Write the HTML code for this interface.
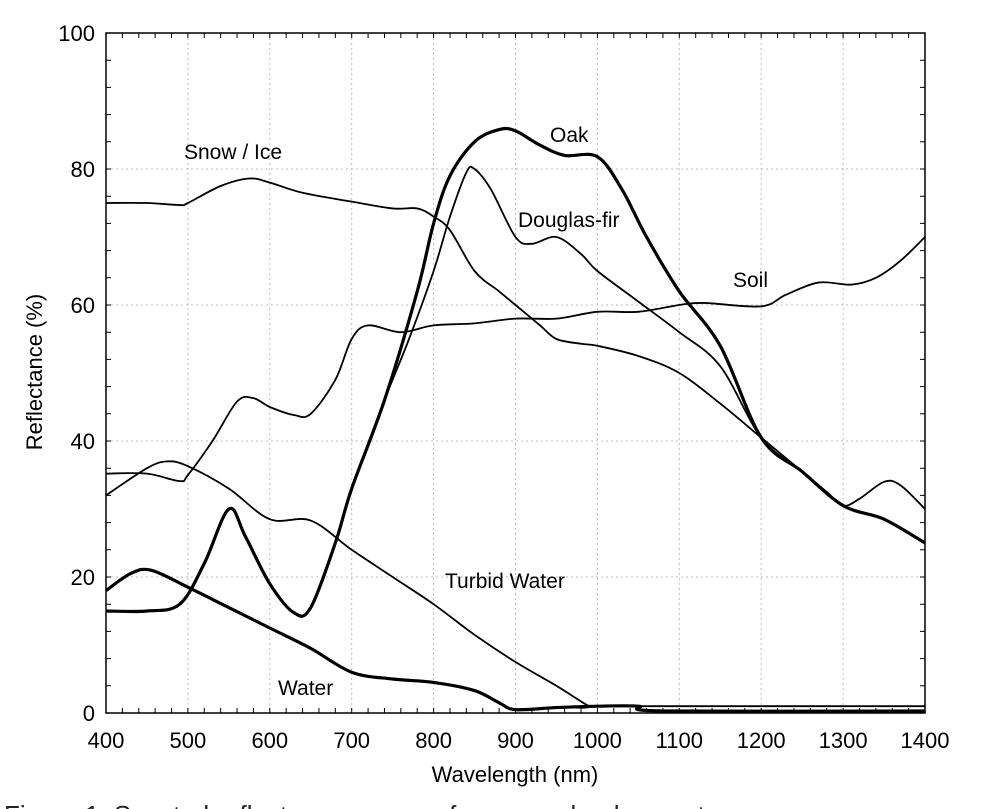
<!DOCTYPE html>
<html><head><meta charset="utf-8"><style>
html,body{margin:0;padding:0;background:#fff;width:995px;height:809px;overflow:hidden}
svg{display:block;font-family:"Liberation Sans",Arial,sans-serif}
</style></head><body>
<svg id="chart" width="995" height="809" viewBox="0 0 995 809" xmlns="http://www.w3.org/2000/svg">
<g id="grid"></g>
<g id="axes"></g>
<g id="series"></g>
<g id="labels" font-size="21" fill="#000">
<text x="184" y="159">Snow / Ice</text>
<text x="550" y="142">Oak</text>
<text x="518" y="227">Douglas-fir</text>
<text x="733" y="287">Soil</text>
<text x="445" y="588">Turbid Water</text>
<text x="278" y="695">Water</text>
</g>
<text x="515" y="782" font-size="22" text-anchor="middle">Wavelength (nm)</text>
<text transform="translate(42,372) rotate(-90)" font-size="22" text-anchor="middle">Reflectance (%)</text>
<text x="4" y="824" font-size="26" fill="#222">Figure 1. Spectral reflectance curves of common land cover types</text>
</svg>
<script>
const xTicks=[400,500,600,700,800,900,1000,1100,1200,1300,1400];
const yTicks=[0,20,40,60,80,100];
const snowX=[400,450,490,500,540,575,600,640,700,750,780,800,820,850,880,900,930,950,980,1000,1050,1100,1150,1200,1250,1280,1300,1320,1350,1370,1400];
const snowY=[75,75,74.7,75,77.5,78.6,78,76.5,75.2,74.2,74.2,73,71,65,62,60,57,55,54.3,54,52.5,50,45.5,40.5,35.5,32.5,30.5,31.5,34,33.5,30];
const soilX=[400,450,490,500,530,560,580,600,630,650,680,700,720,760,800,850,900,950,1000,1050,1100,1130,1200,1230,1270,1310,1340,1370,1400];
const soilY=[35.2,35.2,34.1,35,40,45.8,46.3,45,43.8,44,49,55,57,56,57,57.3,58,58,59,59,60,60.3,59.8,61.5,63.3,63,64,66.5,70];
const oakX=[400,450,490,520,550,570,600,630,650,680,700,740,780,800,820,850,880,900,930,960,1000,1030,1060,1100,1150,1200,1250,1300,1350,1400];
const oakY=[15,15,16,22,30,26,19,14.7,15.5,25,33,46,62,72,79,84,85.8,85.6,83.5,82,81.8,77,70,62,54,40.5,35.5,30.5,28.5,25];
const firX=[400,450,490,520,550,570,600,630,650,680,700,740,770,800,820,840,850,870,900,920,950,980,1000,1050,1100,1150,1200,1250,1300,1350,1400];
const firY=[15,15,16,22,30,26,19,14.7,15.5,25,33,46,55,65,73,79.5,80,77,70,69,70,67.5,65,60.5,56,51,40.5,35.5,30.5,28.5,25];
const turbX=[400,450,475,500,550,600,650,700,750,800,850,900,950,990,1000,1400];
const turbY=[32,36,37,36.3,33,28.5,28.3,24,20,16,11.5,7.5,4,1,1,1];
const waterX=[400,430,455,500,550,600,650,700,750,800,850,880,900,950,1000,1050,1080,1400];
const waterY=[18,20.5,21,18.5,15.5,12.5,9.5,6,5,4.5,3.3,1.5,0.5,0.8,1,1,0.3,0.3];

const L=106,R=925,T=33,B=713;
const sx=v=>L+(v-400)/1000*(R-L);
const sy=v=>B-v/100*(B-T);
const NS='http://www.w3.org/2000/svg';
function mk(tag,attrs,parent){const e=document.createElementNS(NS,tag);for(const k in attrs)e.setAttribute(k,attrs[k]);parent.appendChild(e);return e;}
const grid=document.getElementById('grid'),axes=document.getElementById('axes'),series=document.getElementById('series');
xTicks.forEach(t=>{
  const g=mk('line',{x1:sx(t),x2:sx(t),y1:T,y2:B,stroke:'#bbb','stroke-dasharray':'2,3','stroke-width':1},grid);
  
  
  const tx=mk('text',{x:sx(t),y:B+35,'font-size':22,'text-anchor':'middle'},axes);
  tx.textContent=t;
  
  
});
yTicks.forEach(t=>{
  const g=mk('line',{x1:L,x2:R,y1:sy(t),y2:sy(t),stroke:'#bbb','stroke-dasharray':'2,3','stroke-width':1},grid);
  
  
  const tx=mk('text',{x:L-11,y:sy(t)+8,'font-size':22,'text-anchor':'end'},axes);
  tx.textContent=t;
  
  
});
let d='';
for(let v=400;v<=1400;v+=20){const x=sx(v);d+=`M${x},${B}v-5M${x},${T}v5`;}
for(let v=0;v<=100;v+=4){const y=sy(v);d+=`M${L},${y}h5M${R},${y}h-5`;}
const tk=mk('path',{d:d,stroke:'#000','stroke-width':1,fill:'none'},axes);


const fr=mk('rect',{x:L,y:T,width:R-L,height:B-T,fill:'none',stroke:'#000','stroke-width':1.5},axes);


function line(xs,ys,w,name){
  const p=xs.map((x,i)=>[sx(x),sy(ys[i])]);
  let s=`M${p[0][0]},${p[0][1]}`;
  for(let i=0;i<p.length-1;i++){
    const p0=p[i-1]||p[i],p1=p[i],p2=p[i+1],p3=p[i+2]||p2;
    const c1x=p1[0]+(p2[0]-p0[0])/6,c1y=p1[1]+(p2[1]-p0[1])/6;
    const c2x=p2[0]-(p3[0]-p1[0])/6,c2y=p2[1]-(p3[1]-p1[1])/6;
    s+=`C${c1x},${c1y} ${c2x},${c2y} ${p2[0]},${p2[1]}`;
  }
  const e=mk('path',{d:s,fill:'none',stroke:'#000','stroke-width':w,'stroke-linejoin':'round'},series);
  
  
}
line(snowX,snowY,1.8,'line-snow-ice');
line(soilX,soilY,1.8,'line-soil');
line(turbX,turbY,1.8,'line-turbid-water');
line(firX,firY,1.8,'line-douglas-fir');
line(oakX,oakY,3.2,'line-oak');
line(waterX,waterY,3.2,'line-water');
</script>
</body></html>
